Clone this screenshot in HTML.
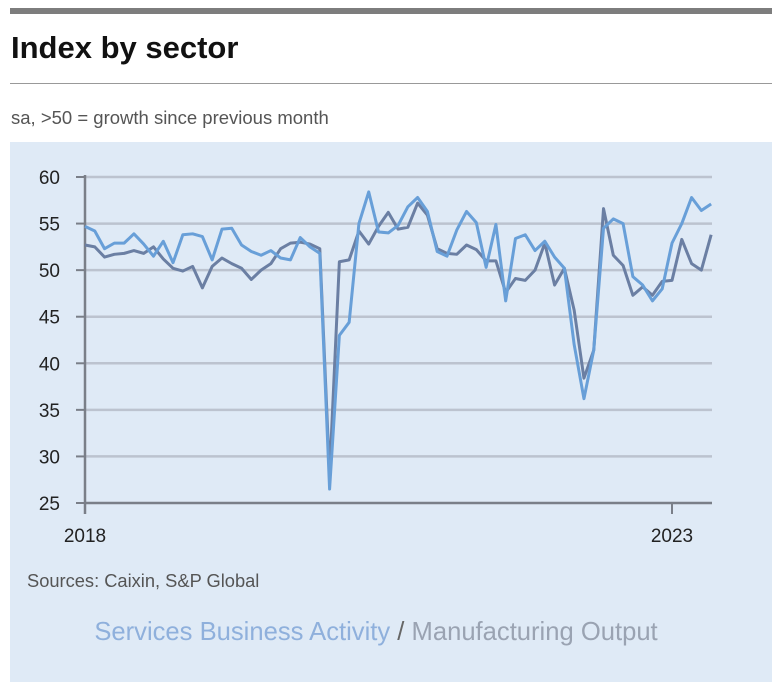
<!DOCTYPE html>
<html><head><meta charset="utf-8">
<style>
body{margin:0;width:779px;height:692px;background:#fff;font-family:"Liberation Sans",sans-serif;position:relative;overflow:hidden}
.topbar{position:absolute;left:10px;top:8px;width:762px;height:6px;background:#7d7d7d}
.title{position:absolute;left:11px;top:30px;font-size:31px;font-weight:bold;color:#111}
.rule{position:absolute;left:10px;top:83px;width:762px;height:1px;background:#999}
.sub{position:absolute;left:11px;top:107px;font-size:18.5px;color:#555}
.panel{position:absolute;left:10px;top:142px;width:762px;height:540px;background:#dfeaf6}
</style></head><body>
<div class="topbar"></div>
<div class="title">Index by sector</div>
<div class="rule"></div>
<div class="sub">sa, &gt;50 = growth since previous month</div>
<div class="panel"></div>
<svg id="chart" width="779" height="692" style="position:absolute;left:0;top:0"></svg>
<script>
const services=[54.7,54.2,52.3,52.9,52.9,53.9,52.8,51.5,53.1,50.8,53.8,53.9,
53.6,51.1,54.4,54.5,52.7,52.0,51.6,52.1,51.3,51.1,53.5,52.5,
51.8,26.5,43.0,44.4,55.0,58.4,54.1,54.0,54.8,56.8,57.8,56.3,
52.0,51.5,54.3,56.3,55.1,50.3,54.9,46.7,53.4,53.8,52.1,53.1,
51.4,50.2,42.0,36.2,41.4,54.5,55.5,55.0,49.3,48.4,46.7,48.0,
52.9,55.0,57.8,56.4,57.1];
const manufacturing=[52.7,52.5,51.4,51.7,51.8,52.1,51.8,52.5,51.2,50.2,49.9,50.4,
48.1,50.4,51.3,50.7,50.2,49.0,50.0,50.7,52.3,52.9,53.0,52.8,
52.3,28.0,50.9,51.1,54.2,52.8,54.7,56.2,54.4,54.6,57.2,55.9,
52.3,51.8,51.7,52.7,52.2,51.0,51.0,47.6,49.1,48.9,50.0,52.9,
48.4,50.2,45.7,38.4,41.4,56.6,51.6,50.5,47.3,48.2,47.3,48.8,
48.9,53.3,50.7,50.0,53.8];
const yTicks=[25,30,35,40,45,50,55,60];
const xLabels=[{i:0,t:"2018"},{i:60,t:"2023"}];
const svg=document.getElementById('chart');
const NS="http://www.w3.org/2000/svg";
const x=i=>85+i*(587/60);
const y=v=>503-(v-25)*(326/35);
function mk(tag,attrs,text){const e=document.createElementNS(NS,tag);for(const k in attrs)e.setAttribute(k,attrs[k]);if(text!==undefined)e.textContent=text;svg.appendChild(e);return e;}
yTicks.forEach(v=>{
  if(v>25){const g=mk('line',{x1:85,x2:712,y1:y(v),y2:y(v),stroke:'#bcc3cf','stroke-width':2.5});
  
  }
  const t=mk('line',{x1:76,x2:85,y1:y(v),y2:y(v),stroke:'#7a7f88','stroke-width':2});
  
  
  const l=mk('text',{x:60,y:y(v)+7,'text-anchor':'end','font-size':19,fill:'#222','font-family':'Liberation Sans, sans-serif'},String(v));
  
  
});
const ya=mk('line',{x1:85,x2:85,y1:175,y2:514,stroke:'#7a7f88','stroke-width':2.5});


const xa=mk('line',{x1:84,x2:712,y1:503,y2:503,stroke:'#7a7f88','stroke-width':2.5});


xLabels.forEach(o=>{
  const t=mk('line',{x1:x(o.i),x2:x(o.i),y1:503,y2:514,stroke:'#7a7f88','stroke-width':2});
  
  
  const l=mk('text',{x:x(o.i),y:542,'text-anchor':'middle','font-size':19,fill:'#222','font-family':'Liberation Sans, sans-serif'},o.t);
  
  
});
function line(data,color,name){
  const p=mk('polyline',{points:data.map((v,i)=>x(i)+','+y(v)).join(' '),fill:'none',stroke:color,'stroke-width':3,'stroke-linejoin':'round'});
  
  
}
line(manufacturing,'#6b7fa3','manufacturing-output-line');
line(services,'#689fd8','services-business-activity-line');
const s=mk('text',{x:27,y:587,'font-size':18.3,fill:'#555','font-family':'Liberation Sans, sans-serif'},'Sources: Caixin, S&P Global');


const lg=mk('text',{x:376,y:640,'text-anchor':'middle','font-size':25.6,'font-family':'Liberation Sans, sans-serif'});


const a=document.createElementNS(NS,'tspan');a.setAttribute('fill','#8fb0dc');a.textContent='Services Business Activity';


const b=document.createElementNS(NS,'tspan');b.setAttribute('fill','#666');b.textContent=' / ';
const c=document.createElementNS(NS,'tspan');c.setAttribute('fill','#9aa3b2');c.textContent='Manufacturing Output';


lg.appendChild(a);lg.appendChild(b);lg.appendChild(c);
</script>
</body></html>
